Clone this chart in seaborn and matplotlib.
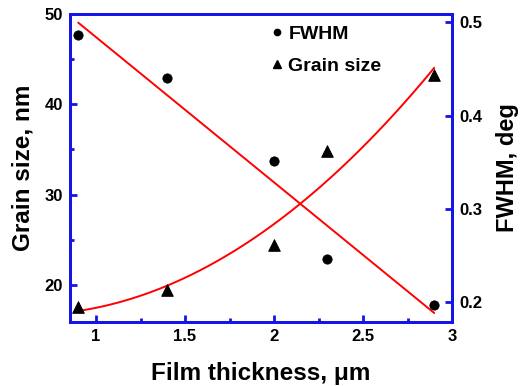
import numpy as np
import pandas as pd
import matplotlib
matplotlib.use("Agg")
import matplotlib.pyplot as plt
import seaborn as sns
from matplotlib.lines import Line2D
from matplotlib.ticker import MultipleLocator, NullLocator

# Data
thickness = [0.9, 1.4, 2.0, 2.3, 2.9]
grain_size = [17.6, 19.4, 24.4, 34.8, 43.2]
fwhm = [0.487, 0.440, 0.351, 0.246, 0.197]

x_ticks = [1, 1.5, 2, 2.5, 3]
x_tick_labels = ["1", "1.5", "2", "2.5", "3"]
left_ticks = [20, 30, 40, 50]
right_ticks = [0.2, 0.3, 0.4, 0.5]

df = pd.DataFrame({"thickness": thickness, "grain": grain_size, "fwhm": fwhm})

sns.set_style("ticks")
plt.rcParams["font.family"] = ["Liberation Sans", "DejaVu Sans"]
plt.rcParams["font.weight"] = "bold"
plt.rcParams["text.color"] = "black"
plt.rcParams["axes.labelcolor"] = "black"
plt.rcParams["xtick.color"] = "black"
plt.rcParams["ytick.color"] = "black"

blue = "#1414E6"

fig = plt.figure(figsize=(5.21, 3.86), dpi=100)
ax = fig.add_axes([0.1344, 0.1658, 0.7332, 0.7979])
ax2 = ax.twinx()

# Grain size (left axis): triangles + polynomial fit
sns.regplot(data=df, x="thickness", y="grain", order=2, ci=None,
            scatter=False, ax=ax, line_kws={"color": "red", "lw": 1.4})
sns.scatterplot(data=df, x="thickness", y="grain", marker="^", s=70,
                color="black", edgecolor="black", ax=ax, zorder=5)

# FWHM (right axis): circles + linear fit
sns.regplot(data=df, x="thickness", y="fwhm", ci=None, scatter=False,
            ax=ax2, line_kws={"color": "red", "lw": 1.4})
sns.scatterplot(data=df, x="thickness", y="fwhm", marker="o", s=45,
                color="black", edgecolor="black", ax=ax2, zorder=5)

ax.set_xlim(0.854, 3.0)
ax.set_ylim(15.9, 50)
ax2.set_ylim(0.179, 0.509)

ax.set_xticks(x_ticks)
ax.set_xticklabels(x_tick_labels)
ax.set_yticks(left_ticks)
ax2.set_yticks(right_ticks)
ax.xaxis.set_minor_locator(MultipleLocator(0.25))
ax.yaxis.set_minor_locator(MultipleLocator(5))
ax2.yaxis.set_minor_locator(NullLocator())

for a in (ax, ax2):
    for s in a.spines.values():
        s.set_color(blue)
        s.set_linewidth(2)
    a.tick_params(which="both", direction="in", color=blue, width=2,
                  labelsize=12, pad=5, labelcolor="black")
    a.tick_params(which="major", length=5)
    a.tick_params(which="minor", length=3)
    for lab in a.get_xticklabels() + a.get_yticklabels():
        lab.set_fontweight("bold")

ax.tick_params(which="both", top=False, right=False)
ax2.tick_params(which="both", top=False, left=False)

ax.set_xlabel("Film thickness, μm", fontsize=17.5, fontweight="bold", labelpad=13)
ax.set_ylabel("Grain size, nm", fontsize=17.5, fontweight="bold", labelpad=7)
ax2.set_ylabel("FWHM, deg", fontsize=17, fontweight="bold", labelpad=10)

handles = [
    Line2D([], [], marker="o", color="black", linestyle="none", markersize=4.5),
    Line2D([], [], marker="^", color="black", linestyle="none", markersize=6),
]
ax2.legend(handles, ["FWHM", "Grain size"], loc="upper left",
           bbox_to_anchor=(0.48, 1.02), frameon=False, handlelength=0.6,
           handletextpad=0.3, labelspacing=0.75,
           prop={"size": 14, "weight": "bold"})

fig.savefig("out.png", dpi=100)
